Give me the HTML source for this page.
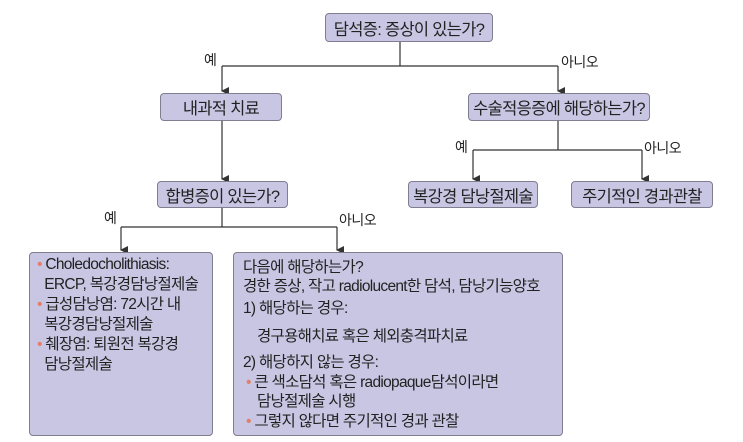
<!DOCTYPE html>
<html><head><meta charset="utf-8"><style>
body{margin:0;background:#fff;}
#c{position:relative;width:743px;height:442px;overflow:hidden;font-family:"Liberation Sans","Noto Sans CJK KR",sans-serif;color:#222;}
.b{position:absolute;background:#c9c6e3;border:1.3px solid #7f7d90;border-radius:4px;box-sizing:border-box;display:flex;align-items:center;justify-content:center;font-size:16.5px;letter-spacing:-0.7px;white-space:nowrap;}
.l{position:absolute;font-size:14px;letter-spacing:-0.5px;white-space:nowrap;}
.t{position:absolute;font-size:15.5px;letter-spacing:-0.7px;white-space:nowrap;line-height:20px;}
.d{color:#e0806a;}
</style></head><body><div id="c">
<svg width="743" height="442" style="position:absolute;left:0;top:0">
<defs><marker id="a" markerWidth="8" markerHeight="8" refX="4" refY="7" orient="auto" markerUnits="userSpaceOnUse"><path d="M0,0 L8,0 L4,8 z" fill="#333"/></marker></defs>
<g stroke="#333" stroke-width="1.2" fill="none">
<path d="M400,42 V66 M222,66 H558"/>
<path d="M222,66 V91" marker-end="url(#a)"/>
<path d="M558,66 V91" marker-end="url(#a)"/>
<path d="M222,121 V179" marker-end="url(#a)"/>
<path d="M558,121 V150 M473,150 H642"/>
<path d="M473,150 V179" marker-end="url(#a)"/>
<path d="M642,150 V179" marker-end="url(#a)"/>
<path d="M222,208 V227 M121,227 H337"/>
<path d="M121,227 V250" marker-end="url(#a)"/>
<path d="M337,227 V250" marker-end="url(#a)"/>
</g></svg>
<div class="b" style="left:325px;top:13px;width:168px;height:29px">담석증: 증상이 있는가?</div>
<div class="b" style="left:160px;top:93px;width:122px;height:28px">내과적 치료</div>
<div class="b" style="left:468px;top:93px;width:182px;height:28px">수술적응증에 해당하는가?</div>
<div class="b" style="left:157px;top:181px;width:131px;height:27px">합병증이 있는가?</div>
<div class="b" style="left:408px;top:181px;width:130px;height:27px">복강경 담낭절제술</div>
<div class="b" style="left:571px;top:181px;width:142px;height:27px">주기적인 경과관찰</div>
<div class="l" style="left:204px;top:50px">예</div>
<div class="l" style="left:561px;top:52px">아니오</div>
<div class="l" style="left:455px;top:137px">예</div>
<div class="l" style="left:644px;top:138px">아니오</div>
<div class="l" style="left:104px;top:208px">예</div>
<div class="l" style="left:339px;top:210px">아니오</div>
<div class="b" style="left:29px;top:252px;width:184px;height:184px;display:block"></div>
<div class="b" style="left:233px;top:252px;width:330px;height:184px;display:block"></div>
<div class="t" style="left:37px;top:255px"><span class="d">•</span> Choledocholithiasis:<br>&nbsp;&nbsp;ERCP, 복강경담낭절제술<br><span class="d">•</span> 급성담낭염: 72시간 내<br>&nbsp;&nbsp;복강경담낭절제술<br><span class="d">•</span> 췌장염: 퇴원전 복강경<br>&nbsp;&nbsp;담낭절제술</div>
<div class="t" style="left:243px;top:258px">다음에 해당하는가?</div>
<div class="t" style="left:243px;top:277px">경한 증상, 작고 radiolucent한 담석, 담낭기능양호</div>
<div class="t" style="left:243px;top:299px">1) 해당하는 경우:</div>
<div class="t" style="left:257px;top:327px">경구용해치료 혹은 체외충격파치료</div>
<div class="t" style="left:243px;top:353px">2) 해당하지 않는 경우:</div>
<div class="t" style="left:246px;top:373px"><span class="d">•</span> 큰 색소담석 혹은 radiopaque담석이라면</div>
<div class="t" style="left:257px;top:392px">담낭절제술 시행</div>
<div class="t" style="left:246px;top:412px"><span class="d">•</span> 그렇지 않다면 주기적인 경과 관찰</div>
</div></body></html>
